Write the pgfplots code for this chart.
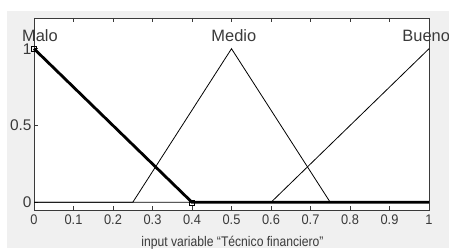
\documentclass[border=0pt]{standalone}
\usepackage{pgfplots}
\pgfplotsset{compat=1.18}
\usepackage{fontspec}
\setmainfont{Liberation Sans}
\newfontfamily\tickfont{Liberation Sans}[FakeStretch=0.92]
\newfontfamily\labfont{Liberation Sans}[FakeStretch=0.87]
\definecolor{bg}{HTML}{F0F0F0}
\definecolor{axc}{HTML}{3A3A3A}
\begin{document}
\begin{tikzpicture}[x=1bp,y=1bp]
\useasboundingbox (0,0) rectangle (449,248);
\clip (0,0) rectangle (449,248);
\fill[bg] (7,0) rectangle (449,237);
\begin{axis}[at={(34bp,38bp)}, anchor=south west, scale only axis,
  width=395bp, height=192bp,
  xmin=0, xmax=1, ymin=-0.05, ymax=1.2,
  axis background/.style={fill=white},
  xtick={0,0.1,0.2,0.3,0.4,0.5,0.6,0.7,0.8,0.9,1},
  xticklabels={0,0.1,0.2,0.3,0.4,0.5,0.6,0.7,0.8,0.9,1},
  ytick={0,0.5,1}, yticklabels={0,0.5,1},
  tick align=inside, xtick pos=both, ytick pos=left,
  major tick length=4bp,
  axis line style={axc, line width=0.8bp},
  tick style={axc, line width=0.8bp},
  xticklabel style={font=\tickfont\fontsize{14}{14}\selectfont, text=axc, yshift=-1.5bp},
  yticklabel style={font=\fontsize{15.5}{15.5}\selectfont, text=axc, xshift=1bp},
  clip=false]
\addplot[black, line width=0.8bp] coordinates {(0,0)(0.25,0)(0.5,1)(0.75,0)(1,0)};
\addplot[black, line width=0.8bp] coordinates {(0,0)(0.6,0)(1,1)};
\addplot[black, line width=2.8bp] coordinates {(0,1)(0.4,0)(1,0)};
\addplot[only marks, mark=square, mark size=2.5bp, black, line width=0.6bp] coordinates {(0,1)(0.4,0)};
\node[font=\fontsize{16.5}{16.5}\selectfont, text=axc] at (axis cs:0.015,1.084) {Malo};
\node[font=\fontsize{16.5}{16.5}\selectfont, text=axc] at (axis cs:0.506,1.084) {Medio};
\node[font=\fontsize{16.5}{16.5}\selectfont, text=axc] at (axis cs:0.993,1.084) {Bueno};
\end{axis}
\node[font=\labfont\fontsize{14}{14}\selectfont, text=axc, anchor=base, inner sep=0pt] at (232.5,1.5) {input variable “Técnico financiero”};
\end{tikzpicture}
\end{document}
